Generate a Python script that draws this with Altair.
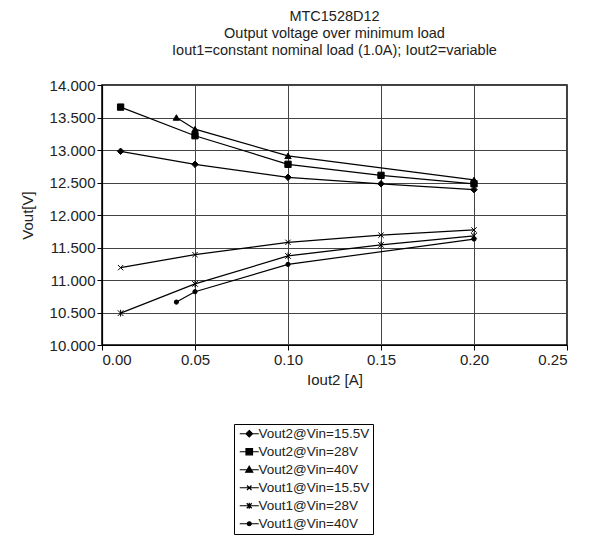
import altair as alt
import pandas as pd

series_names = ["Vout2@Vin=15.5V", "Vout2@Vin=28V", "Vout2@Vin=40V",
                "Vout1@Vin=15.5V", "Vout1@Vin=28V", "Vout1@Vin=40V"]

x_vout2_15 = [0.01, 0.05, 0.10, 0.15, 0.20]
y_vout2_15 = [12.98, 12.78, 12.58, 12.48, 12.39]
x_vout2_28 = [0.01, 0.05, 0.10, 0.15, 0.20]
y_vout2_28 = [13.66, 13.22, 12.78, 12.61, 12.48]
x_vout2_40 = [0.04, 0.05, 0.10, 0.20]
y_vout2_40 = [13.50, 13.32, 12.91, 12.54]
x_vout1_15 = [0.01, 0.05, 0.10, 0.15, 0.20]
y_vout1_15 = [11.19, 11.39, 11.58, 11.69, 11.77]
x_vout1_28 = [0.01, 0.05, 0.10, 0.15, 0.20]
y_vout1_28 = [10.49, 10.94, 11.37, 11.54, 11.68]
x_vout1_40 = [0.04, 0.05, 0.10, 0.20]
y_vout1_40 = [10.66, 10.82, 11.24, 11.63]

x_ticks = [0.0, 0.05, 0.10, 0.15, 0.20, 0.25]
y_ticks = [10.0, 10.5, 11.0, 11.5, 12.0, 12.5, 13.0, 13.5, 14.0]

title_lines = ["MTC1528D12", "Output voltage over minimum load",
               "Iout1=constant nominal load (1.0A); Iout2=variable"]

rows = []
for name, xs, ys in zip(series_names,
                        [x_vout2_15, x_vout2_28, x_vout2_40, x_vout1_15, x_vout1_28, x_vout1_40],
                        [y_vout2_15, y_vout2_28, y_vout2_40, y_vout1_15, y_vout1_28, y_vout1_40]):
    for xv, yv in zip(xs, ys):
        rows.append({"series": name, "x": xv, "y": yv})
df = pd.DataFrame(rows)

# (shape, size) of the marker drawn on the plot for each series
plot_markers = [
    ("diamond", 42),
    ("square", 40),
    ("triangle-up", 40),
    ("M-1,-1L1,1M-1,1L1,-1", 28),
    ("M-1,-1L1,1M-1,1L1,-1M0,-1.2L0,1.2", 32),
    ("circle", 18),
]
# line + marker glyphs used in the legend
legend_shapes = [
    "M-0.8,0H3M1.1,-0.65L1.75,0L1.1,0.65L0.45,0Z",
    "M-0.8,0H3M0.45,-0.62H1.75V0.62H0.45Z",
    "M-0.8,0H3M1.1,-0.7L1.8,0.5H0.4Z",
    "M-0.8,0H3M0.65,-0.45L1.55,0.45M0.65,0.45L1.55,-0.45",
    "M-0.8,0H3M0.6,-0.5L1.6,0.5M0.6,0.5L1.6,-0.5M1.1,-0.6V0.6",
    "M-0.8,0H3M1.5,0A0.4,0.4 0 1,1 0.7,0A0.4,0.4 0 1,1 1.5,0Z",
]

x_enc = alt.X("x:Q", scale=alt.Scale(domain=[0, 0.25], nice=False),
              axis=alt.Axis(values=x_ticks, format=".2f", title="Iout2 [A]"))
y_enc = alt.Y("y:Q", scale=alt.Scale(domain=[10, 14], nice=False, zero=False),
              axis=alt.Axis(values=y_ticks, format=".3f", title="Vout[V]"))

base = alt.Chart(df).encode(x=x_enc, y=y_enc)

lines = base.mark_line(color="black", strokeWidth=1.2).encode(
    detail="series:N", order="x:Q")

point_layers = []
for name, (shp, sz) in zip(series_names, plot_markers):
    point_layers.append(
        base.transform_filter(alt.datum.series == name).mark_point(
            color="black", filled=True, stroke="black", strokeWidth=1,
            opacity=1, size=sz, shape=shp)
    )

# legend-only layer: its rows are filtered out, the legend comes from the shape scale
legend_layer = base.transform_filter("false").mark_point(
    filled=False, fill="black", stroke="black", strokeWidth=1.2, opacity=1).encode(
    shape=alt.Shape("series:N",
                    scale=alt.Scale(domain=series_names, range=legend_shapes),
                    legend=alt.Legend(title=None, orient="none", legendX=132, legendY=339,
                                      strokeColor="black", fillColor="white", padding=3,
                                      labelFontSize=13.5, labelOffset=8, rowPadding=3,
                                      symbolSize=100, symbolStrokeWidth=1.2,
                                      labelColor="#222")))

chart = alt.layer(lines, *point_layers, legend_layer).properties(
    width=465, height=260,
    padding={"left": 12, "top": 0, "right": 10, "bottom": 0},
    title=alt.TitleParams(text=title_lines, fontSize=14.5, fontWeight="normal", lineHeight=17,
                          anchor="middle", color="#222", offset=20, font="Liberation Sans"),
).configure(font="Liberation Sans").configure_axis(
    labelFontSize=15, titleFontSize=15, titleFontWeight="normal", labelColor="#222",
    titleColor="#222", gridColor="#444", gridWidth=1, domainColor="black", domainWidth=1.2,
    tickColor="black", tickSize=5, labelPadding=2,
).configure_axisY(titlePadding=14).configure_axisX(titlePadding=5).configure_view(
    stroke="black", strokeWidth=1.5)

chart.save("out.html", embed_options={"renderer": "svg", "actions": False})
